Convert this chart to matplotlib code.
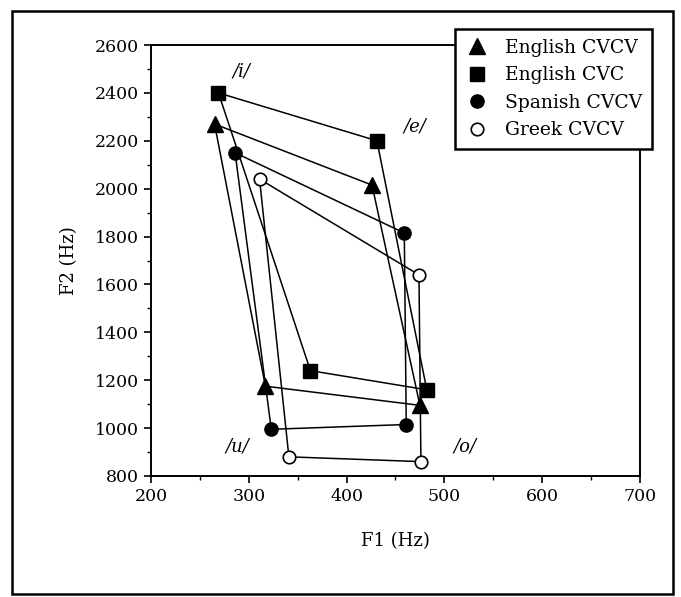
import matplotlib
matplotlib.use("Agg")
import matplotlib.pyplot as plt
from matplotlib.lines import Line2D
from matplotlib.patches import Rectangle
from matplotlib.ticker import MultipleLocator

plt.rcParams['font.family'] = ['DejaVu Serif']

# Vowel order around each quadrilateral: /i/ -> /e/ -> /o/ -> /u/ -> /i/
vowels = ["i", "e", "o", "u"]

# F1 / F2 (Hz) per vowel, in the order above
eng_cvcv_f1 = [265, 426, 475, 317]
eng_cvcv_f2 = [2270, 2015, 1095, 1175]

eng_cvc_f1 = [269, 431, 482, 363]
eng_cvc_f2 = [2400, 2200, 1160, 1240]

spa_cvcv_f1 = [286, 459, 461, 323]
spa_cvcv_f2 = [2150, 1815, 1015, 995]

grk_cvcv_f1 = [311, 474, 476, 341]
grk_cvcv_f2 = [2040, 1640, 860, 880]

series_names = ["English CVCV", "English CVC", "Spanish CVCV", "Greek CVCV"]

vowel_labels = ["/i/", "/e/", "/u/", "/o/"]
vowel_label_f1 = [293, 470, 288, 521]
vowel_label_f2 = [2488, 2259, 922, 922]

fig = plt.figure(figsize=(6.81, 5.97), dpi=100)
ax = fig.add_axes([0.2217, 0.2027, 0.7181, 0.7219])

styles = [
    dict(marker="^", ms=11, mfc="black", mec="black"),
    dict(marker="s", ms=10.5, mfc="black", mec="black"),
    dict(marker="o", ms=9.5, mfc="black", mec="black"),
    dict(marker="o", ms=9, mfc="white", mec="black", mew=1.2),
]
data = [
    (eng_cvcv_f1, eng_cvcv_f2),
    (eng_cvc_f1, eng_cvc_f2),
    (spa_cvcv_f1, spa_cvcv_f2),
    (grk_cvcv_f1, grk_cvcv_f2),
]

for (f1, f2), st in zip(data, styles):
    xs = list(f1) + [f1[0]]
    ys = list(f2) + [f2[0]]
    ax.plot(xs, ys, color="black", lw=1.1, zorder=2)
    ax.plot(f1, f2, linestyle="none", zorder=3, **st)

for lab, x, y in zip(vowel_labels, vowel_label_f1, vowel_label_f2):
    ax.text(x, y, lab, fontsize=13, fontstyle="italic", ha="center", va="center")

ax.set_xlim(200, 700)
ax.set_ylim(800, 2600)
ax.xaxis.set_major_locator(MultipleLocator(100))
ax.xaxis.set_minor_locator(MultipleLocator(50))
ax.yaxis.set_major_locator(MultipleLocator(200))
ax.yaxis.set_minor_locator(MultipleLocator(100))
ax.tick_params(which="major", direction="out", length=5, width=1.2, labelsize=12.5)
ax.tick_params(which="minor", direction="out", length=3, width=1.0)
for sp in ax.spines.values():
    sp.set_linewidth(1.4)

ax.set_xlabel("F1 (Hz)", fontsize=13, labelpad=20)
ax.set_ylabel("F2 (Hz)", fontsize=13, labelpad=12)

handles = [Line2D([], [], linestyle="none", **st) for st in styles]
leg = fig.legend(handles, series_names, loc="upper left",
                 bbox_to_anchor=(0.668, 0.952), bbox_transform=fig.transFigure,
                 frameon=True, fancybox=False, edgecolor="black", fontsize=13.5,
                 labelspacing=0.5, handlelength=1.3, handletextpad=0.8,
                 borderpad=0.55, borderaxespad=0)
leg.get_frame().set_linewidth(1.8)
leg.get_frame().set_alpha(1)

fig.patches.append(Rectangle((0.0176, 0.005), 0.97, 0.976, transform=fig.transFigure,
                             fill=False, edgecolor="black", linewidth=1.8))

fig.savefig("out.png", dpi=100, facecolor="white")
